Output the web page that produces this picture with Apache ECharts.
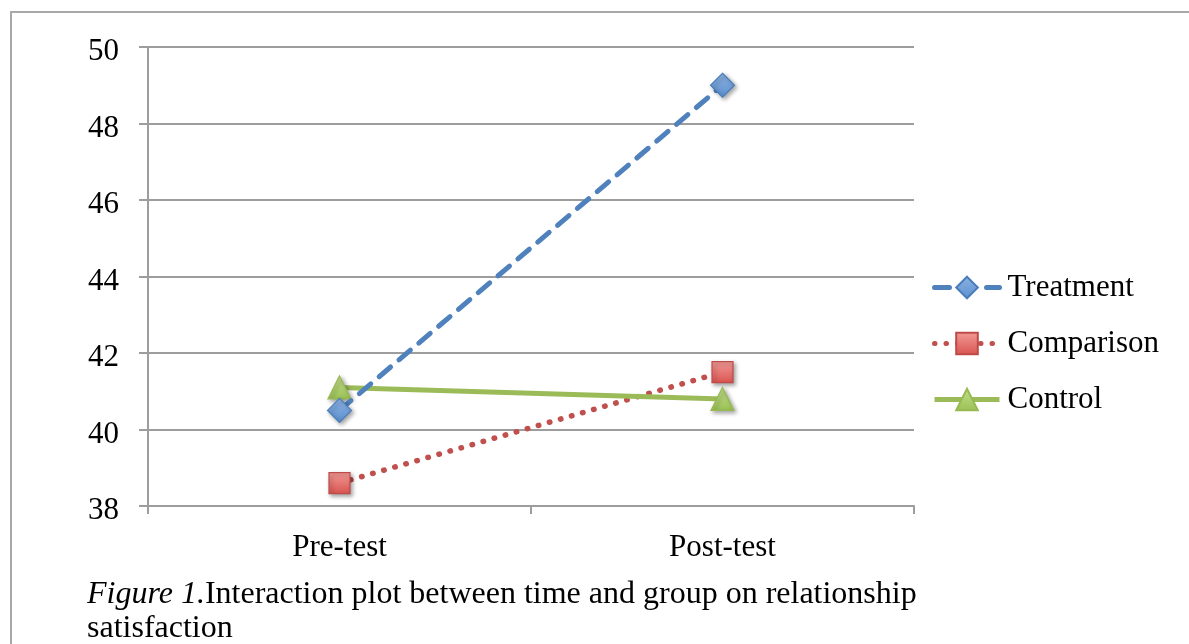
<!DOCTYPE html>
<html>
<head>
<meta charset="utf-8">
<script src="https://cdn.jsdelivr.net/npm/echarts@6/dist/echarts.min.js"></script>
<style>html,body{margin:0;padding:0;background:#fff;}#c{width:1189px;height:644px;}</style>
</head>
<body>
<div id="c"></div>
<script>
const categories = ['Pre-test', 'Post-test'];
const treatment = [40.5, 49.0];
const comparison = [38.6, 41.5];
const control = [41.1, 40.8];
const yTicks = { min: 38, max: 50, interval: 2 };

const FONT = '"Liberation Serif", "DejaVu Serif", serif';
const chart = echarts.init(document.getElementById('c'), null, { renderer: 'canvas' });

function grad(top, bottom) {
  return new echarts.graphic.LinearGradient(0, 0, 0, 1, [
    { offset: 0, color: top }, { offset: 1, color: bottom }
  ]);
}
const shadow = { shadowBlur: 4, shadowColor: 'rgba(0,0,0,0.35)', shadowOffsetX: 2, shadowOffsetY: 2 };

chart.setOption({
  animation: false,
  backgroundColor: '#fff',
  textStyle: { fontFamily: FONT },
  graphic: [{
    type: 'rect', shape: { x: 11, y: 12, width: 1400, height: 800 },
    style: { fill: 'none', stroke: '#a8a8a8', lineWidth: 2 }, silent: true, z: -1
  }],
  title: {
    left: 82, top: 573,
    text: '{i|Figure 1.}{n|Interaction plot between time and group on relationship}\n{n|satisfaction}',
    textStyle: {
      fontWeight: 'normal',
      rich: {
        i: { fontFamily: FONT, fontStyle: 'italic', fontWeight: 'normal', fontSize: 32, color: '#000', lineHeight: 34 },
        n: { fontFamily: FONT, fontWeight: 'normal', fontSize: 32, color: '#000', lineHeight: 34 }
      }
    }
  },
  grid: { left: 148, right: 275, top: 47, bottom: 138 },
  legend: {
    orient: 'vertical', left: 932, top: 272, padding: 0,
    itemWidth: 65, itemHeight: 27, itemGap: 25,
    lineStyle: { width: 5 },
    textStyle: { fontFamily: FONT, fontSize: 31, color: '#000', padding: [0, 0, 0, 3] },
    data: ['Treatment', 'Comparison', 'Control']
  },
  xAxis: {
    type: 'category', data: categories, boundaryGap: true,
    axisLine: { lineStyle: { color: '#9d9d9d', width: 2 } },
    axisTick: { show: true, length: 8, alignWithLabel: false, lineStyle: { color: '#9d9d9d', width: 2 } },
    axisLabel: { fontFamily: FONT, fontSize: 31, color: '#000', margin: 26 }
  },
  yAxis: {
    type: 'value', min: yTicks.min, max: yTicks.max, interval: yTicks.interval,
    axisLine: { show: true, lineStyle: { color: '#9d9d9d', width: 2 } },
    axisTick: { show: true, length: 9, lineStyle: { color: '#9d9d9d', width: 2 } },
    axisLabel: {
      fontFamily: FONT, fontSize: 31, color: '#000', margin: 29,
      formatter: '{v|{value}}',
      rich: { v: { fontFamily: FONT, fontSize: 31, color: '#000', padding: [10, 0, 0, 0] } }
    },
    splitLine: { lineStyle: { color: '#9d9d9d', width: 2 } }
  },
  series: [
    {
      name: 'Treatment', type: 'line', data: treatment,
      symbol: 'diamond', symbolSize: 24,
      lineStyle: { color: '#4f81bd', width: 5, type: [15, 11], cap: 'round' },
      itemStyle: Object.assign({ color: grad('#8db3e2', '#5b8fd0'), borderColor: '#4a7ebb', borderWidth: 1.2 }, shadow),
      z: 3
    },
    {
      name: 'Comparison', type: 'line', data: comparison,
      symbol: 'rect', symbolSize: 21,
      lineStyle: { color: '#c0504d', width: 5.5, type: [0.5, 11], cap: 'round' },
      itemStyle: Object.assign({ color: grad('#f29b98', '#d9534f'), borderColor: '#be4b48', borderWidth: 1.2 }, shadow),
      z: 2
    },
    {
      name: 'Control', type: 'line', data: control,
      symbol: 'triangle', symbolSize: 23,
      lineStyle: { color: '#9bbb59', width: 5, type: 'solid' },
      itemStyle: Object.assign({ color: grad('#c3df8c', '#9bc154'), borderColor: '#98b954', borderWidth: 1.2 }, shadow),
      z: 2
    }
  ]
});
</script>
</body>
</html>
